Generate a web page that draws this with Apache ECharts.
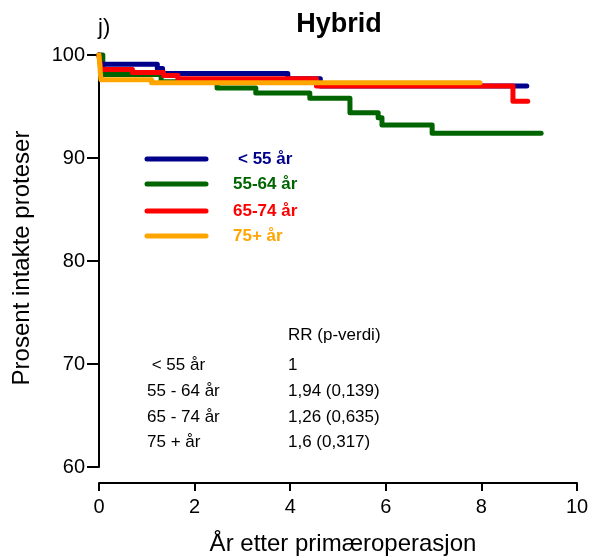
<!DOCTYPE html>
<html>
<head>
<meta charset="utf-8">
<script src="https://cdn.jsdelivr.net/npm/echarts@6/dist/echarts.min.js"></script>
<style>html,body{margin:0;padding:0;background:#fff;}#c{width:592px;height:556px;}</style>
</head>
<body>
<div id="c"></div>
<script>
const groupNames = ['< 55 år', '55-64 år', '65-74 år', '75+ år'];
const groupColors = ['#00008b', '#006400', '#ff0000', '#ffa500'];

const tBlue = [0, 0.03, 1.22, 1.33, 3.95, 4.63, 8.95];
const vBlue = [100, 99.1, 98.7, 98.2, 97.7, 97.0, 97.0];

const tGreen = [0, 0.08, 1.3, 2.47, 3.28, 4.41, 5.25, 5.84, 5.92, 6.97, 9.25];
const vGreen = [100, 98.1, 97.4, 96.8, 96.3, 95.8, 94.4, 93.9, 93.2, 92.4, 92.4];

const tRed = [0, 0.04, 0.7, 1.35, 1.65, 4.55, 8.66, 8.97];
const vRed = [100, 98.6, 98.3, 98.0, 97.7, 97.0, 95.5, 95.5];

const tOrange = [0, 0.04, 1.1, 7.97];
const vOrange = [100, 97.6, 97.3, 97.3];

const tableHeader = 'RR (p-verdi)';
const tableRows = [' < 55 år', '55 - 64 år', '65 - 74 år', '75 + år'];
const tableValues = ['1', '1,94 (0,139)', '1,26 (0,635)', '1,6 (0,317)'];

const xTicks = [0, 2, 4, 6, 8, 10];
const yTicks = [60, 70, 80, 90, 100];

function pairs(t, v) { return t.map((x, i) => [x, v[i]]); }

const seriesDefs = [
  { name: groupNames[1], t: tGreen, v: vGreen, c: groupColors[1] },
  { name: groupNames[0], t: tBlue, v: vBlue, c: groupColors[0] },
  { name: groupNames[2], t: tRed, v: vRed, c: groupColors[2] },
  { name: groupNames[3], t: tOrange, v: vOrange, c: groupColors[3] }
];

const FONT = 'Liberation Sans, Arial, sans-serif';

const graphics = [];
graphics.push({ type: 'text', x: 339, y: 25, style: { text: 'Hybrid', font: 'bold 27px ' + FONT, fill: '#000', textAlign: 'center', textVerticalAlign: 'middle' } });
graphics.push({ type: 'text', x: 98, y: 28, style: { text: 'j)', font: '22px ' + FONT, fill: '#000', textVerticalAlign: 'middle' } });
graphics.push({ type: 'text', x: 343, y: 544, style: { text: 'År etter primæroperasjon', font: '24px ' + FONT, fill: '#000', textAlign: 'center', textVerticalAlign: 'middle' } });
graphics.push({ type: 'text', x: 22, y: 258, rotation: Math.PI / 2, style: { text: 'Prosent intakte proteser', font: '24px ' + FONT, fill: '#000', textAlign: 'center', textVerticalAlign: 'middle' } });

const legendY = [159, 184, 211, 236];
const legendTextX = [238, 233, 233, 233];
groupNames.forEach((n, i) => {
  graphics.push({ type: 'line', shape: { x1: 147, y1: legendY[i], x2: 206, y2: legendY[i] }, style: { stroke: groupColors[i], lineWidth: 5, lineCap: 'round' } });
  graphics.push({ type: 'text', x: legendTextX[i], y: legendY[i], style: { text: n, font: 'bold 17px ' + FONT, fill: groupColors[i], textVerticalAlign: 'middle' } });
});

const rowY = [365, 391, 417, 442];
graphics.push({ type: 'text', x: 288, y: 335, style: { text: tableHeader, font: '17px ' + FONT, fill: '#000', textVerticalAlign: 'middle' } });
tableRows.forEach((r, i) => {
  graphics.push({ type: 'text', x: 147, y: rowY[i], style: { text: r, font: '17px ' + FONT, fill: '#000', textVerticalAlign: 'middle' } });
  graphics.push({ type: 'text', x: 288, y: rowY[i], style: { text: tableValues[i], font: '17px ' + FONT, fill: '#000', textVerticalAlign: 'middle' } });
});

const chart = echarts.init(document.getElementById('c'), null, { renderer: 'canvas' });
chart.setOption({
  backgroundColor: '#fff',
  animation: false,
  grid: { left: 99, right: 15, top: 55, bottom: 89 },
  xAxis: {
    type: 'value', min: xTicks[0], max: xTicks[xTicks.length - 1], interval: 2,
    offset: 16,
    axisLine: { show: true, onZero: false, lineStyle: { color: '#000', width: 2 } },
    axisTick: { show: true, inside: false, length: 8, lineStyle: { color: '#000', width: 2 } },
    axisLabel: { color: '#000', fontSize: 20, fontFamily: FONT, margin: 14 },
    splitLine: { show: false }
  },
  yAxis: {
    type: 'value', min: yTicks[0], max: yTicks[yTicks.length - 1], interval: 10,
    axisLine: { show: true, onZero: false, lineStyle: { color: '#000', width: 2 } },
    axisTick: { show: true, inside: false, length: 12, lineStyle: { color: '#000', width: 2 } },
    axisLabel: { color: '#000', fontSize: 20, fontFamily: FONT, margin: 14 },
    splitLine: { show: false }
  },
  series: seriesDefs.map(s => ({
    type: 'line', name: s.name, step: 'end', symbol: 'none', clip: false,
    data: pairs(s.t, s.v),
    lineStyle: { color: s.c, width: 5, cap: 'round', join: 'round' },
    itemStyle: { color: s.c }
  })),
  graphic: graphics
});
</script>
</body>
</html>
